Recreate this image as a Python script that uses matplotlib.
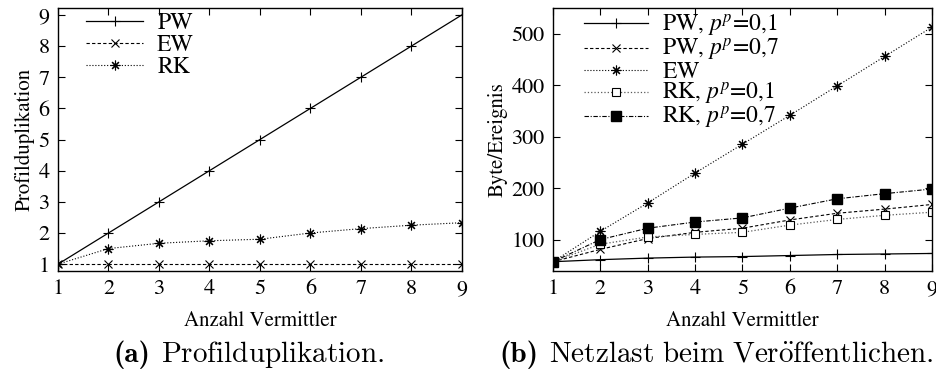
import numpy as np
import matplotlib
matplotlib.use("Agg")
import matplotlib.pyplot as plt

plt.rcParams["font.family"] = ["STIXGeneral", "DejaVu Serif"]
plt.rcParams["mathtext.fontset"] = "stix"
plt.rcParams["axes.linewidth"] = 1.0

vermittler = [1, 2, 3, 4, 5, 6, 7, 8, 9]

# Profilduplikation
dup_pw = [1, 2, 3, 4, 5, 6, 7, 8, 9]
dup_ew = [1, 1, 1, 1, 1, 1, 1, 1, 1]
dup_rk = [1, 1.5, 1.67, 1.75, 1.8, 2.0, 2.14, 2.25, 2.33]

# Netzlast in Byte pro Ereignis
last_pw_01 = [58, 62, 65, 67, 68, 70, 72, 73, 74]
last_pw_07 = [58, 82, 103, 115, 123, 139, 152, 160, 169]
last_ew = [58, 117, 172, 230, 286, 342, 399, 456, 513]
last_rk_01 = [58, 92, 106, 111, 115, 129, 140, 148, 154]
last_rk_07 = [58, 101, 123, 135, 143, 162, 180, 190, 199]

ASTERISK = (8, 2, 0)
FS = 16

fig = plt.figure(figsize=(9.37, 3.77), dpi=100)
ax1 = fig.add_axes([58 / 937, 1 - 271 / 377, 404 / 937, 263 / 377])
ax2 = fig.add_axes([553 / 937, 1 - 271 / 377, 379 / 937, 263 / 377])


def style_axes(ax):
    ax.tick_params(direction="in", top=True, right=True, length=5, width=0.8,
                   labelsize=FS, pad=6)
    ax.set_xlim(1, 9)
    ax.set_xticks(vermittler)
    ax.set_xlabel("Anzahl Vermittler", fontsize=15, labelpad=9)


ax1.plot(vermittler, dup_pw, "k-", lw=0.9, marker="+", ms=7, mew=0.8, label="PW")
ax1.plot(vermittler, dup_ew, "k--", lw=0.8, dashes=(3, 2), marker="x", ms=6,
         mew=0.8, label="EW")
ax1.plot(vermittler, dup_rk, "k:", lw=0.8, marker=ASTERISK, ms=7, mew=0.8,
         label="RK")
style_axes(ax1)
ax1.set_ylim(0.78, 9.22)
ax1.set_yticks(range(1, 10))
ax1.set_ylabel("Profilduplikation", fontsize=15, labelpad=3)
ax1.legend(loc="upper left", frameon=False, fontsize=FS + 1, handlelength=2.4,
           handletextpad=0.6, labelspacing=0.02, borderaxespad=0.2,
           bbox_to_anchor=(0.035, 1.035))

ax2.plot(vermittler, last_pw_01, "k-", lw=0.9, marker="+", ms=7, mew=0.8,
         label="PW, $p^p$=0,1")
ax2.plot(vermittler, last_pw_07, "k--", lw=0.8, dashes=(3, 2), marker="x", ms=6,
         mew=0.8, label="PW, $p^p$=0,7")
ax2.plot(vermittler, last_ew, "k:", lw=0.8, marker=ASTERISK, ms=7, mew=0.8,
         label=r"EW$^{\ }$")
ax2.plot(vermittler, last_rk_01, color="0.35", ls=":", lw=0.9, marker="s", ms=6,
         mew=0.8, mfc="white", mec="k", label="RK, $p^p$=0,1")
ax2.plot(vermittler, last_rk_07, "k-.", lw=0.8, dashes=(4, 1.5, 1, 1.5),
         marker="s", ms=7, mfc="k", mec="k", label="RK, $p^p$=0,7")
style_axes(ax2)
ax2.set_ylim(40, 550)
ax2.set_yticks([100, 200, 300, 400, 500])
ax2.set_ylabel("Byte/Ereignis", fontsize=15, labelpad=3)
ax2.legend(loc="upper left", frameon=False, fontsize=FS + 1, handlelength=2.7,
           handletextpad=0.6, labelspacing=-0.08, borderaxespad=0.2,
           bbox_to_anchor=(0.045, 1.035))

# Unterschriften der Teilabbildungen
captions = [(113, "(a)", r"$\mathrm{Profilduplikation.}$"),
            (499, "(b)", r"$\mathrm{Netzlast\ beim\ Ver\ddot{o}ffentlichen.}$")]
y_base = 1 - 362 / 377
for x, tag, text in captions:
    t = fig.text(x / 937, y_base, tag, fontsize=21, family="cmb10",
                 va="baseline", ha="left")
    fig.canvas.draw()
    x1 = t.get_window_extent().x1 + 11
    fig.text(x1 / fig.bbox.width, y_base, text, fontsize=21,
             math_fontfamily="cm", va="baseline", ha="left")

fig.savefig("out.png", dpi=100)
